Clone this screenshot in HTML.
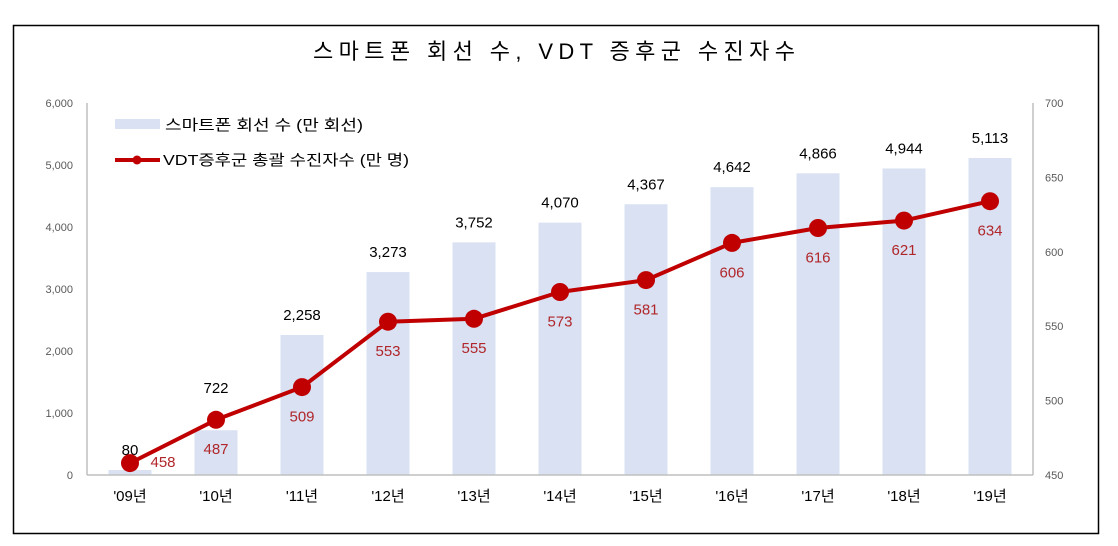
<!DOCTYPE html>
<html><head><meta charset="utf-8"><style>
html,body{margin:0;padding:0;background:#fff;}
svg{display:block;}
</style></head><body>
<svg width="1118" height="546" viewBox="0 0 1118 546" xmlns="http://www.w3.org/2000/svg">
<rect x="0" y="0" width="1118" height="546" fill="#fff"/>
<rect x="13.5" y="25.5" width="1085" height="508" fill="none" stroke="#000" stroke-width="1.5"/>
<text x="554" y="59" text-anchor="middle" font-family="'Liberation Sans','Noto Sans CJK KR',sans-serif" font-size="22" textLength="482" lengthAdjust="spacing" fill="#000">스마트폰  회선  수, VDT  증후군  수진자수</text>

<!-- bars -->
<g fill="#D9E1F2">
<rect x="108.5" y="470.04" width="43" height="4.96"/>
<rect x="194.5" y="430.24" width="43" height="44.76"/>
<rect x="280.5" y="335.0" width="43" height="140.0"/>
<rect x="366.5" y="272.07" width="43" height="202.93"/>
<rect x="452.5" y="242.38" width="43" height="232.62"/>
<rect x="538.5" y="222.66" width="43" height="252.34"/>
<rect x="624.5" y="204.25" width="43" height="270.75"/>
<rect x="710.5" y="187.2" width="43" height="287.8"/>
<rect x="796.5" y="173.31" width="43" height="301.69"/>
<rect x="882.5" y="168.47" width="43" height="306.53"/>
<rect x="968.5" y="157.99" width="43" height="317.01"/>
</g>

<!-- axes -->
<g stroke="#BFBFBF" stroke-width="1.5">
<line x1="87" y1="103" x2="87" y2="475"/>
<line x1="1033" y1="103" x2="1033" y2="475"/>
<line x1="87" y1="475" x2="1033" y2="475"/>
</g>

<!-- left ticks -->
<g font-family="'Liberation Sans',sans-serif" font-size="11" fill="#595959" text-anchor="end">
<text x="73" y="479">0</text>
<text x="73" y="417">1,000</text>
<text x="73" y="355">2,000</text>
<text x="73" y="293">3,000</text>
<text x="73" y="231">4,000</text>
<text x="73" y="169">5,000</text>
<text x="73" y="107">6,000</text>
</g>
<!-- right ticks -->
<g font-family="'Liberation Sans',sans-serif" font-size="11" fill="#595959" text-anchor="start">
<text x="1045" y="479">450</text>
<text x="1045" y="404.6">500</text>
<text x="1045" y="330.2">550</text>
<text x="1045" y="255.8">600</text>
<text x="1045" y="181.4">650</text>
<text x="1045" y="107">700</text>
</g>

<!-- x labels -->
<g font-family="'Liberation Sans','Noto Sans CJK KR',sans-serif" font-size="15" fill="#000" text-anchor="middle">
<text x="130" y="501">'09년</text>
<text x="216" y="501">'10년</text>
<text x="302" y="501">'11년</text>
<text x="388" y="501">'12년</text>
<text x="474" y="501">'13년</text>
<text x="560" y="501">'14년</text>
<text x="646" y="501">'15년</text>
<text x="732" y="501">'16년</text>
<text x="818" y="501">'17년</text>
<text x="904" y="501">'18년</text>
<text x="990" y="501">'19년</text>
</g>

<!-- bar labels -->
<g font-family="'Liberation Sans',sans-serif" font-size="15" fill="#000" text-anchor="middle">
<text x="130" y="455">80</text>
<text x="216" y="393">722</text>
<text x="302" y="320">2,258</text>
<text x="388" y="257">3,273</text>
<text x="474" y="227.4">3,752</text>
<text x="560" y="207.7">4,070</text>
<text x="646" y="189.3">4,367</text>
<text x="732" y="172.2">4,642</text>
<text x="818" y="158.3">4,866</text>
<text x="904" y="153.5">4,944</text>
<text x="990" y="143">5,113</text>
</g>

<!-- line -->
<polyline fill="none" stroke="#C00000" stroke-width="4" stroke-linejoin="round"
 points="130,463.1 216,419.8 302,387.1 388,321.7 474,318.8 560,292.0 646,280.1 732,242.9 818,228.0 904,220.6 990,201.2"/>
<g fill="#C00000">
<circle cx="130" cy="463.1" r="9"/>
<circle cx="216" cy="419.8" r="9"/>
<circle cx="302" cy="387.1" r="9"/>
<circle cx="388" cy="321.7" r="9"/>
<circle cx="474" cy="318.8" r="9"/>
<circle cx="560" cy="292.0" r="9"/>
<circle cx="646" cy="280.1" r="9"/>
<circle cx="732" cy="242.9" r="9"/>
<circle cx="818" cy="228.0" r="9"/>
<circle cx="904" cy="220.6" r="9"/>
<circle cx="990" cy="201.2" r="9"/>
</g>

<!-- line labels -->
<g font-family="'Liberation Sans',sans-serif" font-size="15" fill="#B0262A" text-anchor="middle">
<text x="163" y="467">458</text>
<text x="216" y="454">487</text>
<text x="302" y="421.5">509</text>
<text x="388" y="356">553</text>
<text x="474" y="353">555</text>
<text x="560" y="326.5">573</text>
<text x="646" y="314.5">581</text>
<text x="732" y="277.3">606</text>
<text x="818" y="262.4">616</text>
<text x="904" y="255">621</text>
<text x="990" y="235.6">634</text>
</g>

<!-- legend -->
<rect x="115" y="119" width="45" height="10" fill="#D9E1F2"/>
<text x="165" y="130" font-family="'Liberation Sans','Noto Sans CJK KR',sans-serif" font-size="15" fill="#000" textLength="198" lengthAdjust="spacingAndGlyphs">스마트폰 회선 수 (만 회선)</text>
<line x1="115" y1="160" x2="160" y2="160" stroke="#C00000" stroke-width="4"/>
<circle cx="137" cy="160" r="4.5" fill="#C00000"/>
<text x="163" y="165" font-family="'Liberation Sans','Noto Sans CJK KR',sans-serif" font-size="15" fill="#000" textLength="246" lengthAdjust="spacingAndGlyphs">VDT증후군 총괄 수진자수 (만 명)</text>
</svg>
</body></html>
